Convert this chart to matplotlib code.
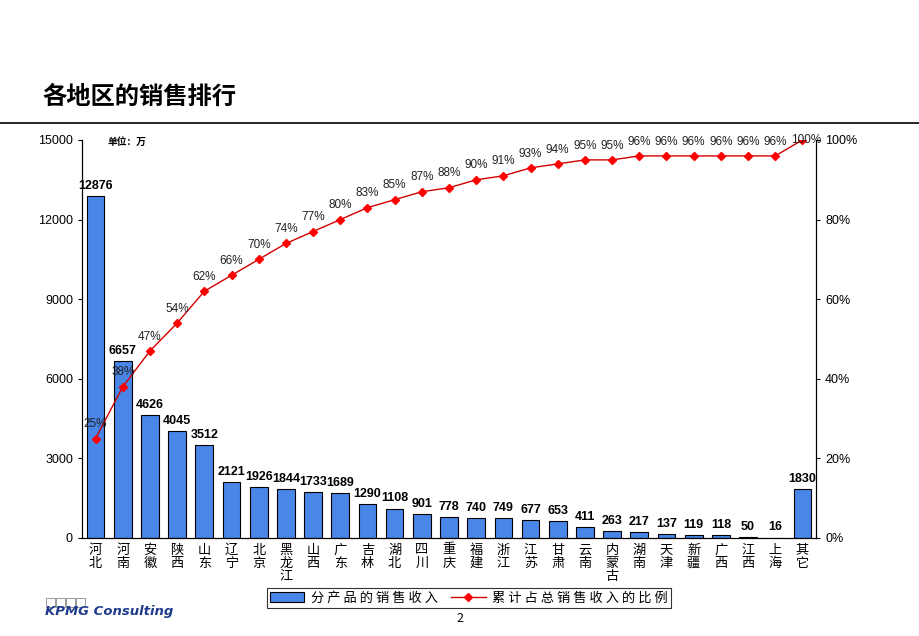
import numpy as np
import matplotlib.pyplot as plt
from matplotlib.patches import Rectangle
from matplotlib.lines import Line2D

plt.rcParams['font.family'] = ['Noto Sans CJK SC', 'DejaVu Sans']

# regions, sales (10k yuan) and cumulative share
regions = ['河北', '河南', '安徽', '陕西', '山东', '辽宁', '北京', '黑龙江', '山西', '广东',
           '吉林', '湖北', '四川', '重庆', '福建', '浙江', '江苏', '甘肃', '云南', '内蒙古',
           '湖南', '天津', '新疆', '广西', '江西', '上海', '其它']
sales = [12876, 6657, 4626, 4045, 3512, 2121, 1926, 1844, 1733, 1689,
         1290, 1108, 901, 778, 740, 749, 677, 653, 411, 263,
         217, 137, 119, 118, 50, 16, 1830]
cum_pct = [25, 38, 47, 54, 62, 66, 70, 74, 77, 80,
           83, 85, 87, 88, 90, 91, 93, 94, 95, 95,
           96, 96, 96, 96, 96, 96, 100]

bar_color = '#4A86E8'
line_color = '#D00000'
num_font = ['Liberation Sans Narrow', 'Liberation Sans', 'DejaVu Sans']
pct_font = ['Liberation Sans', 'DejaVu Sans']

fig = plt.figure(figsize=(9.2, 6.36), dpi=100)
ax = fig.add_axes([82/920, 1-538/636, (816-82)/920, (538-140)/636])
x = np.arange(len(regions))

bars = ax.bar(x, sales, width=0.65, color=bar_color, edgecolor='black', linewidth=0.8)
for xi, v in zip(x, sales):
    ax.annotate(str(v), (xi, v), xytext=(0, 3), textcoords='offset points',
                ha='center', va='bottom', fontsize=9, fontweight='bold',
                family=num_font)

ax.set_xlim(-0.5, len(regions) - 0.5)
ax.set_ylim(0, 15000)
ax.set_yticks(np.arange(0, 15001, 3000))
ax.set_xticks(x)
ax.set_xticklabels(['\n'.join(r) for r in regions], fontsize=9.5, linespacing=1.0)
ax.tick_params(axis='x', length=0, pad=4)
ax.tick_params(axis='y', labelsize=9, length=3)
for lab in ax.get_yticklabels():
    lab.set_family(pct_font)
ax.spines['top'].set_visible(False)

ax2 = ax.twinx()
ax2.plot(x, cum_pct, color=line_color, linewidth=1, marker='D', markersize=4.5,
         markerfacecolor='red', markeredgecolor='red')
for i, (xi, p) in enumerate(zip(x, cum_pct)):
    if i == len(x) - 1:
        ax2.annotate(f'{p}%', (xi, p), xytext=(3, 0), textcoords='offset points',
                     ha='center', va='center', fontsize=8.5, family=pct_font, color='#222222')
    else:
        ax2.annotate(f'{p}%', (xi, p), xytext=(0, 6), textcoords='offset points',
                     ha='center', va='bottom', fontsize=8.5, family=pct_font, color='#222222')
ax2.set_ylim(0, 100)
ax2.set_yticks(np.arange(0, 101, 20))
ax2.set_yticklabels([f'{t}%' for t in range(0, 101, 20)], family=pct_font)
ax2.tick_params(axis='y', labelsize=9, length=3)
ax2.spines['top'].set_visible(False)

ax.text(0.035, 0.995, '单位：万', transform=ax.transAxes, fontsize=7, fontweight='bold',
        va='center', ha='left')

# legend
handles = [Rectangle((0, 0), 1, 1, facecolor=bar_color, edgecolor='black', linewidth=0.8),
           Line2D([], [], color=line_color, marker='D', markersize=4.5,
                  markerfacecolor='red', markeredgecolor='red', linewidth=1)]
leg = fig.legend(handles, ['分 产 品 的 销 售 收 入', '累 计 占 总 销 售 收 入 的 比 例'],
                 loc='center', bbox_to_anchor=(469/920, 1-598/636), ncol=2,
                 fontsize=9.5, frameon=True, fancybox=False, edgecolor='black',
                 handlelength=2.6, handletextpad=0.5, columnspacing=1.0,
                 borderpad=0.25)
leg.get_frame().set_linewidth(0.8)

# title and header rule
fig.text(42/920, 1-97/636, '各地区的销售排行', fontsize=17.5, fontweight='bold',
         va='center', ha='left')
fig.add_artist(Line2D([0, 1], [1-123/636, 1-123/636], color='black', linewidth=1.2))

# page number
fig.text(460/920, 1-618/636, '2', fontsize=9, ha='center', va='center')

# logo
for i in range(4):
    fig.add_artist(Rectangle(((46 + i*10)/920, 1-607/636), 9/920, 9/636,
                             facecolor='white', edgecolor='#999999', linewidth=0.7))
fig.text(45/920, 1-611/636, 'KPMG Consulting', fontsize=9.5, fontweight='bold',
         fontstyle='italic', color='#1F3C8C', ha='left', va='center', family='DejaVu Sans')

fig.savefig('out.png', dpi=100)
